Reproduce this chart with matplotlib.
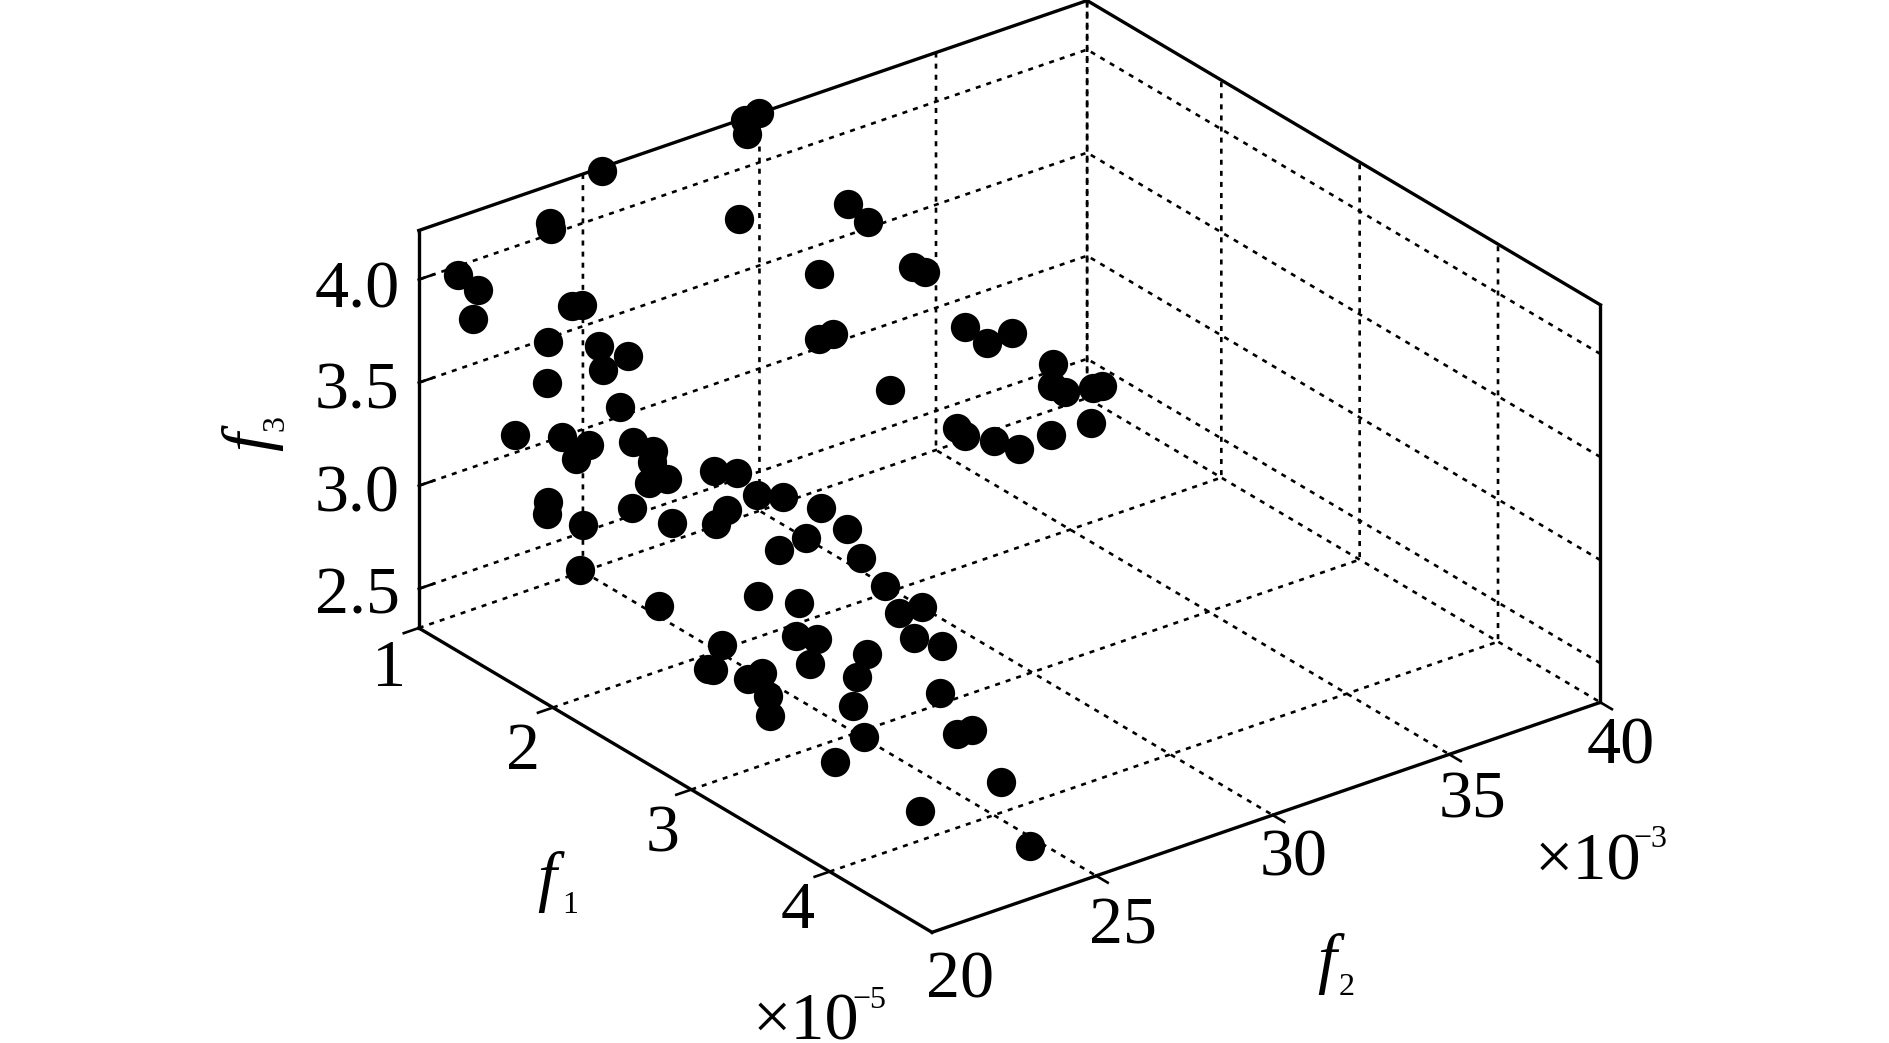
import matplotlib
matplotlib.use('Agg')
import matplotlib.pyplot as plt

plt.rcParams['font.family'] = ['Liberation Serif', 'DejaVu Serif']

f1 = [1.026,1.035,1.091,1.045,1.173,1.198,1.409,1.496,1.592,1.171,1.243,1.225,1.523,1.532,1.728,1.825,1.861,1.496,1.493,1.681,
      1.786,1.695,1.757,1.978,1.978,2.270,1.377,1.547,1.645,1.598,1.804,1.876,1.873,1.927,1.862,2.097,2.180,2.252,2.346,2.555,
      2.764,1.496,1.493,1.800,1.945,1.623,2.144,2.104,2.596,2.509,2.945,3.172,1.612,2.132,2.583,2.813,3.436,3.346,3.516,3.649,
      2.925,3.041,2.594,3.102,3.346,3.385,2.617,2.646,2.900,2.854,3.018,3.105,3.477,3.828,3.651,4.009,4.014,3.604,4.253,4.214,
      4.538,2.126,2.217,2.212,2.386,2.469,2.510,2.553,2.590,2.766,2.505,2.547,2.647,2.775,2.752]
f2 = [30.00,29.57,29.40,25.48,23.50,23.43,27.93,30.68,30.87,20.90,21.19,21.12,22.75,23.00,28.95,31.23,31.43,22.18,22.16,22.90,
      23.31,22.96,23.20,27.97,28.37,28.84,21.71,22.38,22.76,22.57,23.38,23.67,23.65,23.86,23.61,24.53,24.86,25.14,25.51,25.77,
      25.68,22.18,22.16,23.37,23.93,22.67,24.71,24.56,25.18,24.76,25.37,25.16,22.63,22.83,23.87,24.13,25.18,24.88,24.63,24.91,
      23.61,23.75,22.81,23.31,23.97,23.53,22.32,22.35,22.74,22.53,22.45,22.16,23.06,24.15,22.69,23.92,24.33,22.05,24.21,22.07,
      23.92,31.53,31.79,32.52,33.00,32.65,32.86,33.48,33.59,32.59,29.82,29.88,30.31,30.51,31.51]
f3 = [4.240,4.235,4.199,4.228,4.148,4.132,4.000,3.945,3.884,4.048,3.987,3.843,3.928,3.922,3.799,3.738,3.715,3.777,3.577,3.788,
      3.757,3.674,3.504,3.641,3.642,3.458,3.305,3.324,3.301,3.225,3.342,3.311,3.257,3.183,3.153,3.250,3.254,3.160,3.166,3.180,
      3.166,3.000,2.941,3.021,2.972,2.909,3.069,2.994,3.085,3.017,3.116,3.083,2.689,2.709,2.876,2.918,3.085,3.037,2.998,2.996,
      2.833,2.856,2.705,2.785,2.892,2.821,2.626,2.631,2.694,2.660,2.647,2.601,2.745,2.884,2.686,2.770,2.767,2.583,2.617,2.587,
      2.437,3.548,3.491,3.495,3.385,3.332,3.307,3.307,3.325,3.274,3.310,3.284,3.274,3.274,3.274]

f1_lim = (1.03, 4.74)
f2_lim = (20.35, 39.28)
f3_lim = (2.31, 4.238)
f1_ticks = [1.03, 2, 3, 4]
f2_ticks = [25, 30, 35, 39.28]
f3_ticks = [2.5, 3.0, 3.5, 4.0]
f1_labels = ['1', '2', '3', '4']
f2_labels = ['20', '25', '30', '35', '40']
f3_labels = ['4.0', '3.5', '3.0', '2.5']

W, H = 1889, 1043
fig = plt.figure(figsize=(W/100, H/100), dpi=100, facecolor='white')
ax = fig.add_axes([342/W, -91/H, 1300/W, 1300/H], projection='3d', proj_type='ortho')
ax.set_box_aspect((1, 0.992, 0.526), zoom=0.951)
ax.view_init(elev=26.85, azim=-37.3)
ax.set_xlim(*f1_lim, view_margin=0)
ax.set_ylim(*f2_lim, view_margin=0)
ax.set_zlim(*f3_lim, view_margin=0)
ax.set_xticks(f1_ticks); ax.set_yticks(f2_ticks); ax.set_zticks(f3_ticks)
ax.set_xticklabels([]); ax.set_yticklabels([]); ax.set_zticklabels([])
ax.zaxis.set_ticks_position('lower')
ax.patch.set_alpha(0)

for axis in (ax.xaxis, ax.yaxis, ax.zaxis):
    axis.set_pane_color((1, 1, 1, 0))
    axis.pane.set_edgecolor('none')
    axis.line.set_visible(False)
    axis._axinfo['grid'].update(color='black', linewidth=1.9, linestyle=(0, (1.9, 2.3)))
    axis._axinfo['tick'].update(inward_factor=0.28, outward_factor=0.0,
                                linewidth={True: 1.9, False: 0.5})
ax.zaxis._axinfo['tick'].update(inward_factor=0.0, outward_factor=0.28)

# solid box outline, taken from the axis limits
x0, x1 = f1_lim; y0, y1 = f2_lim; z0, z1 = f3_lim
outline = [([x0, x1], [y0, y0], [z0, z0]), ([x1, x1], [y0, y1], [z0, z0]),
           ([x0, x0], [y0, y0], [z0, z1]), ([x1, x1], [y1, y1], [z0, z1]),
           ([x0, x0], [y0, y1], [z1, z1]), ([x0, x1], [y1, y1], [z1, z1])]
for xs, ys, zs in outline:
    ax.plot(xs, ys, zs, color='black', lw=2.4, solid_capstyle='projecting', clip_on=False, zorder=3)

ax.scatter(f1, f2, f3, s=445, c='black', linewidths=0, depthshade=False, clip_on=False, zorder=5)


def put(px, py, s, size=49, **kw):
    kw.setdefault('ha', 'center')
    fig.text(px/W, 1-py/H, s, fontsize=size, color='black', va='baseline',
             rotation_mode='anchor', **kw)


for lab, pos in zip(f3_labels, [(357, 307), (357, 409), (357, 511), (357, 613)]):
    put(*pos, lab)
for lab, pos in zip(f1_labels, [(389, 686), (523, 769), (663, 852), (798, 928)]):
    put(*pos, lab)
for lab, pos in zip(f2_labels, [(960, 998), (1123, 943), (1294, 875), (1472, 818), (1621, 763)]):
    put(*pos, lab)

# multiplier texts
put(753, 1040, '×10', ha='left')
put(852, 1008, '−5', size=23, ha='left')
put(1535, 880, '×10', ha='left')
put(1633, 847, '−3', size=23, ha='left')

# axis titles
put(547, 899, 'f', style='italic')
put(570, 913, '1', size=23)
put(1327, 981, 'f', style='italic')
put(1347, 995, '2', size=23)
put(269, 442, 'f', style='italic', rotation=90)
put(283, 423, '3', size=23, rotation=90)

fig.savefig('out.png', dpi=100, facecolor='white')
